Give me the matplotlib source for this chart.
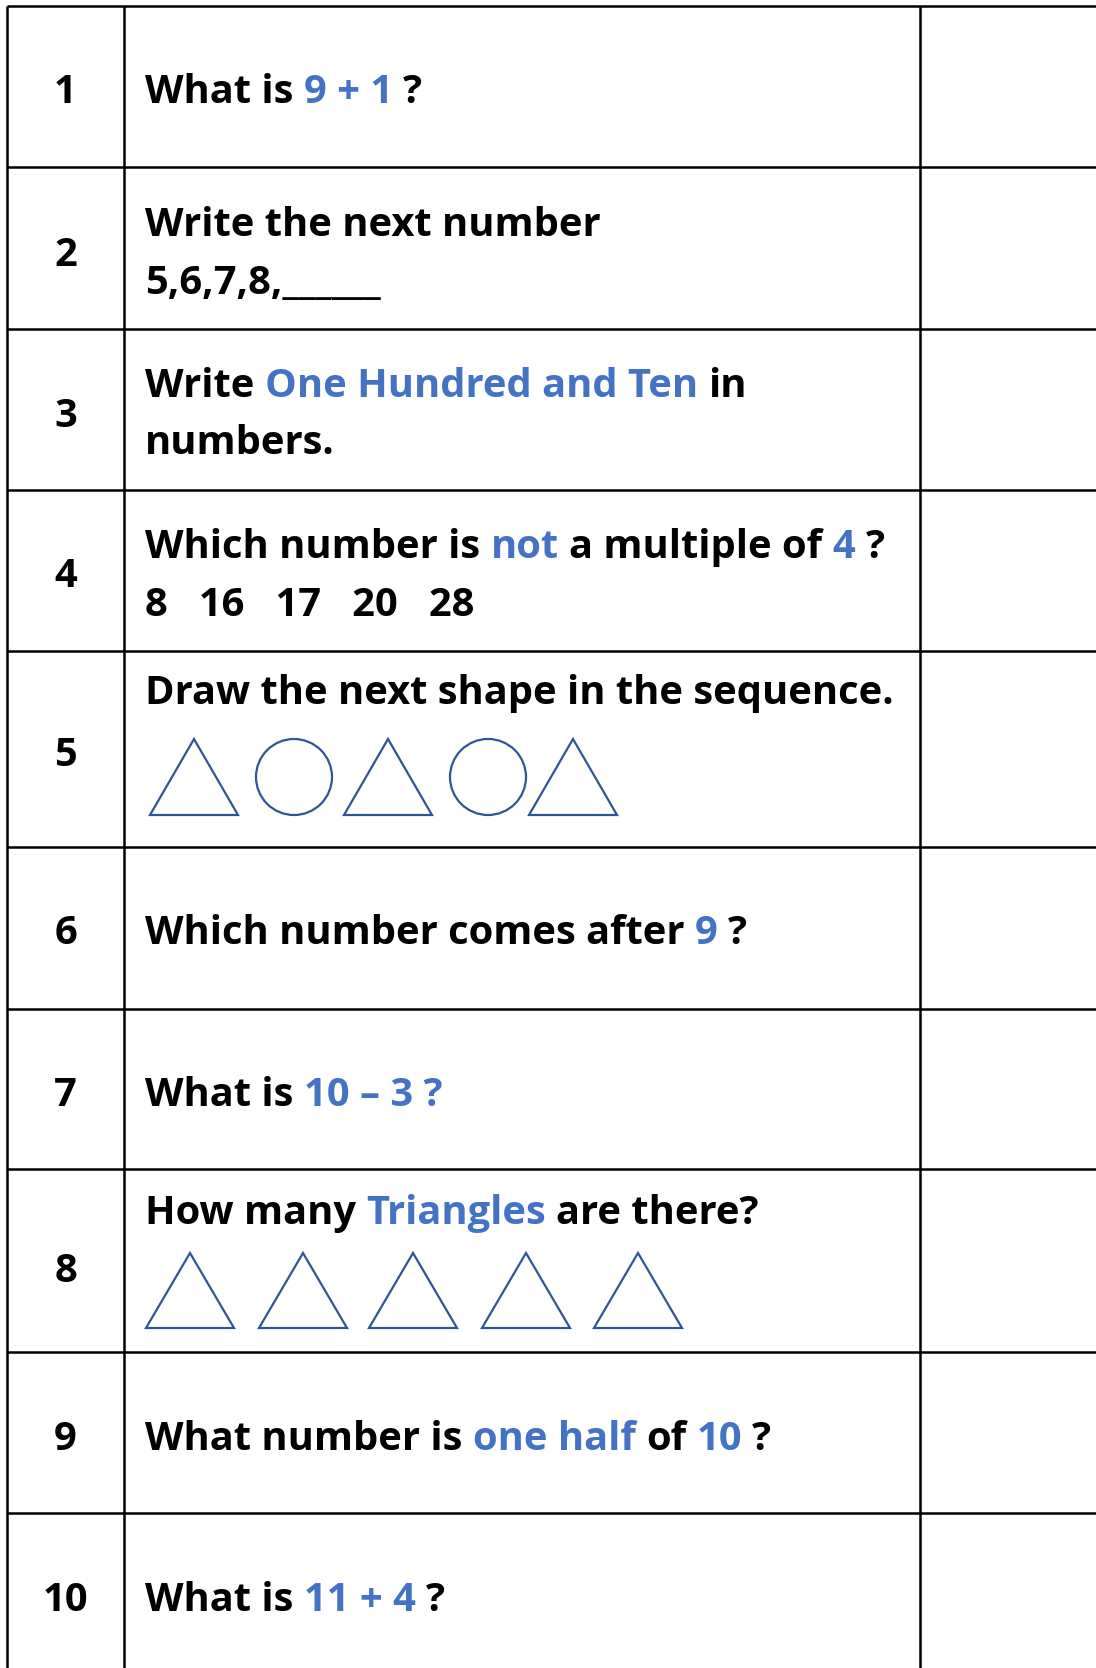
import matplotlib
matplotlib.use('Agg')
import matplotlib.pyplot as plt
from matplotlib.patches import Polygon, Circle

# worksheet content
numbers = ['1', '2', '3', '4', '5', '6', '7', '8', '9', '10']
q1 = [[('What is', 'k'), ('9 + 1', 'b'), ('?', 'k')]]
q2 = [[('Write the next number', 'k')], [('5,6,7,8,______', 'k')]]
q3 = [[('Write', 'k'), ('One Hundred and Ten', 'b'), ('in', 'k')], [('numbers.', 'k')]]
q4 = [[('Which number is', 'k'), ('not', 'b'), ('a multiple of', 'k'), ('4', 'b'), ('?', 'k')],
      [('8   16   17   20   28', 'k')]]
q5 = [[('Draw the next shape in the sequence.', 'k')]]
q6 = [[('Which number comes after', 'k'), ('9', 'b'), ('?', 'k')]]
q7 = [[('What is', 'k'), ('10 \u2013 3 ?', 'b')]]
q8 = [[('How many', 'k'), ('Triangles', 'b'), ('are there?', 'k')]]
q9 = [[('What number is', 'k'), ('one half', 'b'), ('of', 'k'), ('10', 'b'), ('?', 'k')]]
q10 = [[('What is', 'k'), ('11 + 4', 'b'), ('?', 'k')]]
questions = [q1, q2, q3, q4, q5, q6, q7, q8, q9, q10]
shapes5 = ['tri', 'circ', 'tri', 'circ', 'tri']
shapes8 = ['tri', 'tri', 'tri', 'tri', 'tri']

# layout (pixels, y down)
W, H = 1096, 1668
row_lines = [6, 167, 329, 490, 651, 847, 1009, 1169, 1352, 1513]
col_lines = [7, 124, 920]
num_base = [103, 266, 427, 587, 766, 944, 1106, 1282, 1450, 1611]
q_base = [[103], [236, 294], [397, 454], [558, 616], [704], [944], [1106], [1224], [1450], [1611]]
shape5_x = [194, 294, 388, 488, 573]
shape8_x = [190, 303, 413, 526, 638]
colors = {'k': 'black', 'b': '#4472C4'}
shape_col = '#2F5597'
FS = 28.7
FONT = dict(family=['Open Sans', 'DejaVu Sans'], fontweight='bold', fontsize=FS)

fig = plt.figure(figsize=(W / 100, H / 100), dpi=100)
ax = fig.add_axes([0, 0, 1, 1])
ax.set_xlim(0, W)
ax.set_ylim(H, 0)
ax.axis('off')

# table grid
for y in row_lines:
    ax.plot([col_lines[0], W + 5], [y, y], color='black', lw=1.8, solid_capstyle='butt')
for x in col_lines:
    ax.plot([x, x], [row_lines[0], H + 5], color='black', lw=1.8, solid_capstyle='butt')

renderer = fig.canvas.get_renderer()
t1 = ax.text(0, -100, 'a a', **FONT)
t2 = ax.text(0, -100, 'aa', **FONT)
space = t1.get_window_extent(renderer).width - t2.get_window_extent(renderer).width
t1.remove()
t2.remove()


def draw_segments(x, y, segs):
    for text, c in segs:
        t = ax.text(x, y, text, color=colors[c], ha='left', va='baseline', **FONT)
        x += t.get_window_extent(renderer).width + space


for i in range(len(numbers)):
    ax.text((col_lines[0] + col_lines[1]) / 2, num_base[i], numbers[i], ha='center',
            va='baseline', **FONT)
    for line, yb in zip(questions[i], q_base[i]):
        draw_segments(145, yb, line)


def draw_shapes(kinds, xs, top, bottom):
    h = bottom - top
    for k, xc in zip(kinds, xs):
        if k == 'tri':
            p = Polygon([[xc - 44, bottom], [xc, top], [xc + 44, bottom]], closed=True,
                        fill=False, edgecolor=shape_col, lw=1.6)
        else:
            p = Circle((xc, top + h / 2), h / 2, fill=False, edgecolor=shape_col, lw=1.6)
        ax.add_patch(p)


draw_shapes(shapes5, shape5_x, 739, 815)
draw_shapes(shapes8, shape8_x, 1253, 1328)

fig.savefig('out.png', dpi=100)
